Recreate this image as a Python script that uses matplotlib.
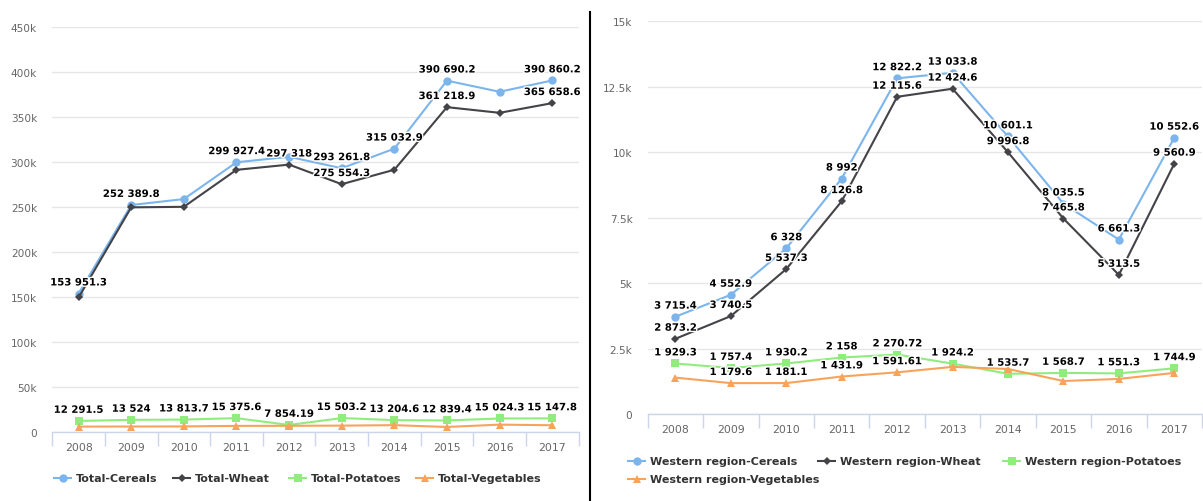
import matplotlib
matplotlib.use("Agg")
import matplotlib.pyplot as plt
import matplotlib.patheffects as pe
from matplotlib.lines import Line2D
from matplotlib.ticker import FuncFormatter, FixedLocator

years = [2008, 2009, 2010, 2011, 2012, 2013, 2014, 2015, 2016, 2017]

total_cereals = [153951.3, 252389.8, 259000, 299927.4, 306000, 293261.8, 315032.9, 390690.2, 378300, 390860.2]
total_wheat = [149600, 249800, 250400, 291500, 297318, 275554.3, 291600, 361218.9, 354900, 365658.6]
total_potatoes = [12291.5, 13524, 13813.7, 15375.6, 7854.19, 15503.2, 13204.6, 12839.4, 15024.3, 15147.8]
total_vegetables = [6000, 6100, 6200, 6800, 6900, 7100, 7600, 5600, 8200, 7500]

west_cereals = [3715.4, 4552.9, 6328, 8992, 12822.2, 13033.8, 10601.1, 8035.5, 6661.3, 10552.6]
west_wheat = [2873.2, 3740.5, 5537.3, 8126.8, 12115.6, 12424.6, 9996.8, 7465.8, 5313.5, 9560.9]
west_potatoes = [1929.3, 1757.4, 1930.2, 2158, 2270.72, 1924.2, 1535.7, 1568.7, 1551.3, 1744.9]
west_vegetables = [1390, 1179.6, 1181.1, 1431.9, 1591.61, 1800, 1720, 1260, 1340, 1570]

# which points keep their value label (the rest are hidden where labels collide)
total_shown = {
    "Cereals": [1, 1, 0, 1, 0, 1, 1, 1, 0, 1],
    "Wheat": [0, 0, 0, 0, 1, 1, 0, 1, 0, 1],
    "Potatoes": [1] * 10,
    "Vegetables": [0] * 10,
}
west_shown = {
    "Cereals": [1] * 10,
    "Wheat": [1] * 10,
    "Potatoes": [1] * 10,
    "Vegetables": [0, 1, 1, 1, 1, 0, 0, 0, 0, 0],
}

styles = {
    "Cereals": ("#7cb5ec", "o", 6),
    "Wheat": ("#434348", "D", 4.2),
    "Potatoes": ("#90ed7d", "s", 5.6),
    "Vegetables": ("#f7a35c", "^", 6.2),
}

W, H = 1203, 502
fig = plt.figure(figsize=(W / 100, H / 100), dpi=100)
fig.patch.set_facecolor("white")


def fmt_value(v):
    return format(v, ",.10g").replace(",", " ")


def k_fmt(v, pos):
    if v == 0:
        return "0"
    return format(v / 1000, "g") + "k"


def draw_panel(ax, series, shown, ymax, ystep):
    x = list(range(len(years)))
    for name, vals in series.items():
        color, marker, ms = styles[name]
        ax.plot(x, vals, color=color, lw=1.5, marker=marker, ms=ms,
                markeredgewidth=0, zorder=3, clip_on=False)
    for name, vals in series.items():
        for i, v in enumerate(vals):
            if not shown[name][i]:
                continue
            ax.annotate(fmt_value(v), (i, v), xytext=(0, 8), textcoords="offset points",
                        ha="center", va="center", fontsize=7.3, fontweight="bold",
                        color="black", zorder=5,
                        path_effects=[pe.withStroke(linewidth=2, foreground="white")])

    ax.set_xlim(-0.5, len(years) - 0.5)
    ax.set_ylim(0, ymax)
    ax.set_yticks([ystep * i for i in range(int(round(ymax / ystep)) + 1)])
    ax.yaxis.set_major_formatter(FuncFormatter(k_fmt))
    ax.set_xticks(x)
    ax.set_xticklabels([str(y) for y in years])
    ax.xaxis.set_minor_locator(FixedLocator([i - 0.5 for i in range(len(years) + 1)]))
    ax.tick_params(axis="x", which="major", length=0, pad=7, labelsize=7.8, labelcolor="#666666")
    ax.tick_params(axis="x", which="minor", length=10, width=1, color="#ccd6eb")
    ax.tick_params(axis="y", length=0, pad=11, labelsize=7.6, labelcolor="#666666")
    ax.grid(axis="y", color="#e6e6e6", lw=1)
    ax.set_axisbelow(True)
    for s in ["top", "right", "left"]:
        ax.spines[s].set_visible(False)
    ax.spines["bottom"].set_color("#ccd6eb")
    ax.spines["bottom"].set_linewidth(1)
    ax.spines["bottom"].set_zorder(2)


def px_box(x0, y0, x1, y1):
    return [x0 / W, 1 - y1 / H, (x1 - x0) / W, (y1 - y0) / H]


def legend_item(x, y, name, label):
    color, marker, ms = styles[name]
    fy = 1 - y / H
    fig.add_artist(Line2D([x / W, (x + 17) / W], [fy, fy], color=color, lw=1.5))
    fig.add_artist(Line2D([(x + 8.5) / W], [fy], color=color, marker=marker, ms=ms,
                          markeredgewidth=0))
    fig.text((x + 22) / W, fy, label, ha="left", va="center", fontsize=8,
             fontweight="bold", color="#333333")


ax1 = fig.add_axes(px_box(52.3, 28.3, 578.5, 433))
draw_panel(ax1, {"Cereals": total_cereals, "Wheat": total_wheat,
                 "Potatoes": total_potatoes, "Vegetables": total_vegetables},
           total_shown, 450000, 50000)

ax2 = fig.add_axes(px_box(647.7, 22.3, 1202, 415))
draw_panel(ax2, {"Cereals": west_cereals, "Wheat": west_wheat,
                 "Potatoes": west_potatoes, "Vegetables": west_vegetables},
           west_shown, 15000, 2500)

legend_item(54, 479, "Cereals", "Total-Cereals")
legend_item(173, 479, "Wheat", "Total-Wheat")
legend_item(289, 479, "Potatoes", "Total-Potatoes")
legend_item(416, 479, "Vegetables", "Total-Vegetables")

legend_item(628, 462, "Cereals", "Western region-Cereals")
legend_item(818, 462, "Wheat", "Western region-Wheat")
legend_item(1003, 462, "Potatoes", "Western region-Potatoes")
legend_item(628, 480, "Vegetables", "Western region-Vegetables")

# separator between the two charts
fig.add_artist(Line2D([589.5 / W, 589.5 / W], [0, 1 - 13 / H], color="black", lw=1.5))

fig.savefig("out.png", dpi=100, facecolor="white")
